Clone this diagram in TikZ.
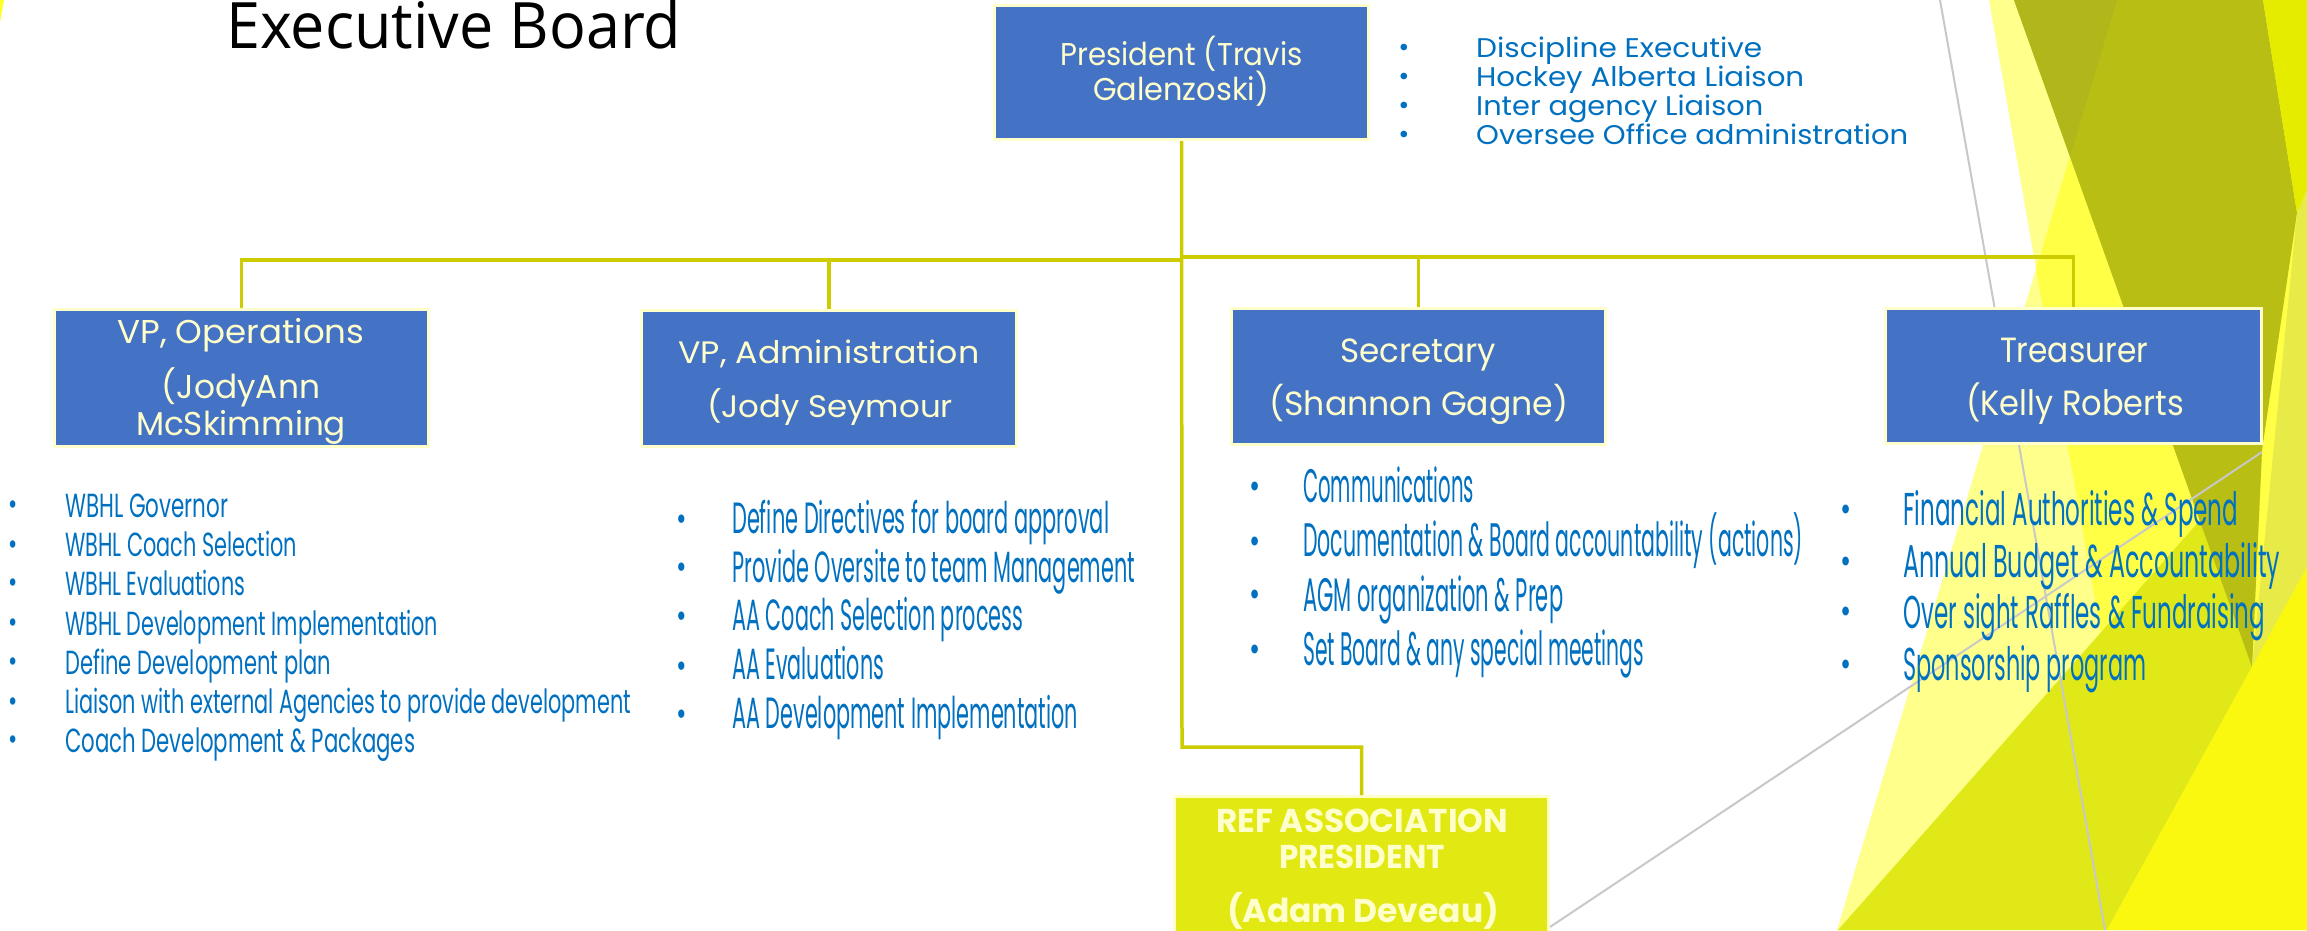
\documentclass[tikz,border=0pt]{standalone}
\usepackage{fontspec}
\usepackage{graphicx}
\setmainfont{Poppins}
\newfontfamily\titlefont{Open Sans}
\newdimen\fitdim
\newcommand\fitw[2]{\settowidth{\fitdim}{#2}\edef\fitfac{\fpeval{round(#1pt/\fitdim,4)}}\scalebox{\fitfac}[1]{#2}}
\newcommand\nbul{\scalebox{0.75}[1]{•}}
\definecolor{boxblue}{RGB}{68,114,196}
\definecolor{cream}{RGB}{255,255,204}
\definecolor{listblue}{RGB}{0,112,192}
\definecolor{connc}{RGB}{204,204,0}
\definecolor{refgreen}{RGB}{225,232,18}
\definecolor{facA}{RGB}{255,255,140}
\definecolor{facB}{RGB}{255,255,70}
\definecolor{facG}{RGB}{225,232,24}
\definecolor{olive}{RGB}{184,190,20}
\definecolor{oliveD}{RGB}{177,182,27}
\definecolor{facTR}{RGB}{230,236,0}
\definecolor{facR}{RGB}{232,234,72}
\definecolor{facBR}{RGB}{250,248,14}
\definecolor{facS}{RGB}{255,255,40}
\definecolor{grayln}{RGB}{200,200,200}
\begin{document}
\begin{tikzpicture}[x=1pt,y=-1pt,
  box/.style={draw=cream, line width=3pt, fill=boxblue, inner sep=0pt},
  refbox/.style={draw=cream, line width=3pt, fill=refgreen, inner sep=0pt},
  conn/.style={draw=connc, line width=3.5pt},
  boxtxt/.style={anchor=base, inner sep=0pt, text=cream},
  listtxt/.style={anchor=base west, inner sep=0pt, text=listblue},
  bul/.style={anchor=base, inner sep=0pt, text=listblue},
  grayline/.style={draw=grayln, line width=2pt}
]
\useasboundingbox (0,0) rectangle (2307,930);
\fill[white] (0,0) rectangle (2307,930);

% background facets
\fill[facS] (0,0) -- (4,0) -- (0,22) -- cycle;
\fill[facA] (1989,0) -- (2307,0) -- (2307,930) -- (1837,930) -- (2036,269) -- cycle;
\fill[facB] (2117,0) -- (2307,0) -- (2307,930) -- (2154,930) -- (2036,269) -- cycle;
\fill[facG] (1838,930) -- (2262,450) -- (2252,667) -- (2107,930) -- cycle;
\fill[olive] (2014,0) -- (2263,0) -- (2297,213) -- (2262,450) -- (2252,667) -- cycle;
\fill[oliveD] (2014,0) -- (2117,0) -- (2070,156) -- cycle;
\fill[facTR] (2263,0) -- (2307,0) -- (2307,190) -- (2297,213) -- cycle;
\fill[facR] (2297,213) -- (2307,190) -- (2307,567) -- (2252,667) -- cycle;
\fill[facBR] (2107,930) -- (2307,567) -- (2307,930) -- cycle;
\draw[grayline] (1940,0) -- (2105,930);
\draw[grayline] (1550,927) -- (2262,452);

% title
\node[anchor=base west, inner sep=0pt, font=\titlefont\fontsize{64}{70}\selectfont] (title) at (226,48) {\fitw{455}{Executive Board}};

% boxes
\node[box, minimum width=374pt, minimum height=134pt] (pres) at (1181.5,72.5) {};
\node[box, minimum width=374pt, minimum height=137pt] (vpo) at (241.5,378) {};
\node[box, minimum width=375pt, minimum height=136pt] (vpa) at (829,378.5) {};
\node[box, minimum width=374pt, minimum height=136pt] (sec) at (1418.5,376.5) {};
\node[box, minimum width=376pt, minimum height=135pt] (tre) at (2073.5,376) {};
\coordinate (hubL) at (1182,260);
\coordinate (hubR) at (1182,257);
\coordinate (bendA) at (1182,747);
\coordinate (bendB) at (1361.5,747);

\node[refbox, minimum width=374pt, minimum height=162pt] (ref) at (1361.5,877.5) {};

% connectors
\draw[conn] (pres.south) -- (bendA) -- (bendB) -- (ref.north);
\draw[conn] (vpo.north) |- (hubL);
\draw[conn] (vpa.north) -- (vpa.north |- hubL);
\draw[conn] (tre.north) |- (hubR);
\draw[conn] (sec.north) -- (sec.north |- hubR);

% box texts
\node[boxtxt, font=\fontsize{31.5}{36}\selectfont] (pres1) at (1181.5,65) {\fitw{242}{President (Travis}};
\node[boxtxt, font=\fontsize{31.5}{36}\selectfont] (pres2) at (1181,100) {\fitw{176}{Galenzoski)}};
\node[boxtxt, font=\fontsize{33}{38}\selectfont] (vpo1) at (241,343) {\fitw{247}{VP, Operations}};
\node[boxtxt, font=\fontsize{33}{38}\selectfont] (vpo2) at (241,398) {\fitw{158}{(JodyAnn}};
\node[boxtxt, font=\fontsize{33}{38}\selectfont] (vpo3) at (241,435) {\fitw{210}{McSkimming}};
\node[boxtxt, font=\fontsize{31}{36}\selectfont] (vpa1) at (829,363) {\fitw{301}{VP, Administration}};
\node[boxtxt, font=\fontsize{31}{36}\selectfont] (vpa2) at (830,417) {\fitw{246}{(Jody Seymour}};
\node[boxtxt, font=\fontsize{33.5}{38}\selectfont] (sec1) at (1418,362) {\fitw{156}{Secretary}};
\node[boxtxt, font=\fontsize{33.5}{38}\selectfont] (sec2) at (1419,415) {\fitw{299}{(Shannon Gagne)}};
\node[boxtxt, font=\fontsize{35}{40}\selectfont] (tre1) at (2074,362) {\fitw{148}{Treasurer}};
\node[boxtxt, font=\fontsize{35}{40}\selectfont] (tre2) at (2075,415) {\fitw{218}{(Kelly Roberts}};
\node[boxtxt, font=\bfseries\fontsize{33}{38}\selectfont] (ref1) at (1362,832) {\fitw{292}{REF ASSOCIATION}};
\node[boxtxt, font=\bfseries\fontsize{33}{38}\selectfont] (ref2) at (1362,868) {\fitw{166}{PRESIDENT}};
\node[boxtxt, font=\bfseries\fontsize{33}{38}\selectfont] (ref3) at (1363,922) {\fitw{272}{(Adam Deveau)}};

% president duties
\begin{scope}[font=\fontsize{27}{30}\selectfont]
\node[bul] (pb1) at (1404,56) {•};
\node[bul] (pb2) at (1404,85) {•};
\node[bul] (pb3) at (1404,114) {•};
\node[bul] (pb4) at (1404,143) {•};
\node[listtxt] (pl1) at (1476,57) {\fitw{286}{Discipline Executive}};
\node[listtxt] (pl2) at (1476,86) {\fitw{328}{Hockey Alberta Liaison}};
\node[listtxt] (pl3) at (1476,115) {\fitw{287}{Inter agency Liaison}};
\node[listtxt] (pl4) at (1476,144) {\fitw{432}{Oversee Office administration}};
\end{scope}

% VP operations duties
\begin{scope}[font=\fontsize{33.4}{38}\selectfont]
\foreach \y [count=\i] in {514,554,592,632,671,711,749} \node[bul,font=\fontsize{30}{30}\selectfont] (ob\i) at (13,\y) {\nbul};
\node[listtxt] (ol1) at (65,517) {\fitw{163}{WBHL Governor}};
\node[listtxt] (ol2) at (65,556) {\fitw{232}{WBHL Coach Selection}};
\node[listtxt] (ol3) at (65,595) {\fitw{180}{WBHL Evaluations}};
\node[listtxt] (ol4) at (65,635) {\fitw{373}{WBHL Development Implementation}};
\node[listtxt] (ol5) at (65,674) {\fitw{266}{Define Development plan}};
\node[listtxt] (ol6) at (65,713) {\fitw{566}{Liaison with external Agencies to provide development}};
\node[listtxt] (ol7) at (65,752) {\fitw{350}{Coach Development \& Packages}};
\end{scope}

% VP administration duties
\begin{scope}[font=\fontsize{43.7}{48}\selectfont]
\foreach \y [count=\i] in {530,578,627,677,725} \node[bul,font=\fontsize{34}{34}\selectfont] (ab\i) at (682,\y) {\nbul};
\node[listtxt] (al1) at (732,533) {\fitw{377}{Define Directives for board approval}};
\node[listtxt] (al2) at (732,582) {\fitw{403}{Provide Oversite to team Management}};
\node[listtxt] (al3) at (732,630) {\fitw{291}{AA Coach Selection process}};
\node[listtxt] (al4) at (732,679) {\fitw{152}{AA Evaluations}};
\node[listtxt] (al5) at (732,728) {\fitw{346}{AA Development Implementation}};
\end{scope}

% secretary duties
\begin{scope}[font=\fontsize{47}{52}\selectfont]
\foreach \y [count=\i] in {498,553,606,661} \node[bul,font=\fontsize{36}{36}\selectfont] (sb\i) at (1255,\y) {\nbul};
\node[listtxt] (sl1) at (1303,502) {\fitw{171}{Communications}};
\node[listtxt] (sl2) at (1303,556) {\fitw{500}{Documentation \& Board accountability (actions)}};
\node[listtxt] (sl3) at (1303,611) {\fitw{260}{AGM organization \& Prep}};
\node[listtxt] (sl4) at (1303,665) {\fitw{341}{Set Board \& any special meetings}};
\end{scope}

% treasurer duties
\begin{scope}[font=\fontsize{46}{50}\selectfont]
\foreach \y [count=\i] in {521,573,623,676} \node[bul,font=\fontsize{36}{36}\selectfont] (tb\i) at (1846,\y) {\nbul};
\node[listtxt] (tl1) at (1903,525) {\fitw{335}{Financial Authorities \& Spend}};
\node[listtxt] (tl2) at (1903,577) {\fitw{377}{Annual Budget \& Accountability}};
\node[listtxt] (tl3) at (1903,628) {\fitw{362}{Over sight Raffles \& Fundraising}};
\node[listtxt] (tl4) at (1903,680) {\fitw{243}{Sponsorship program}};
\end{scope}
\end{tikzpicture}
\end{document}
